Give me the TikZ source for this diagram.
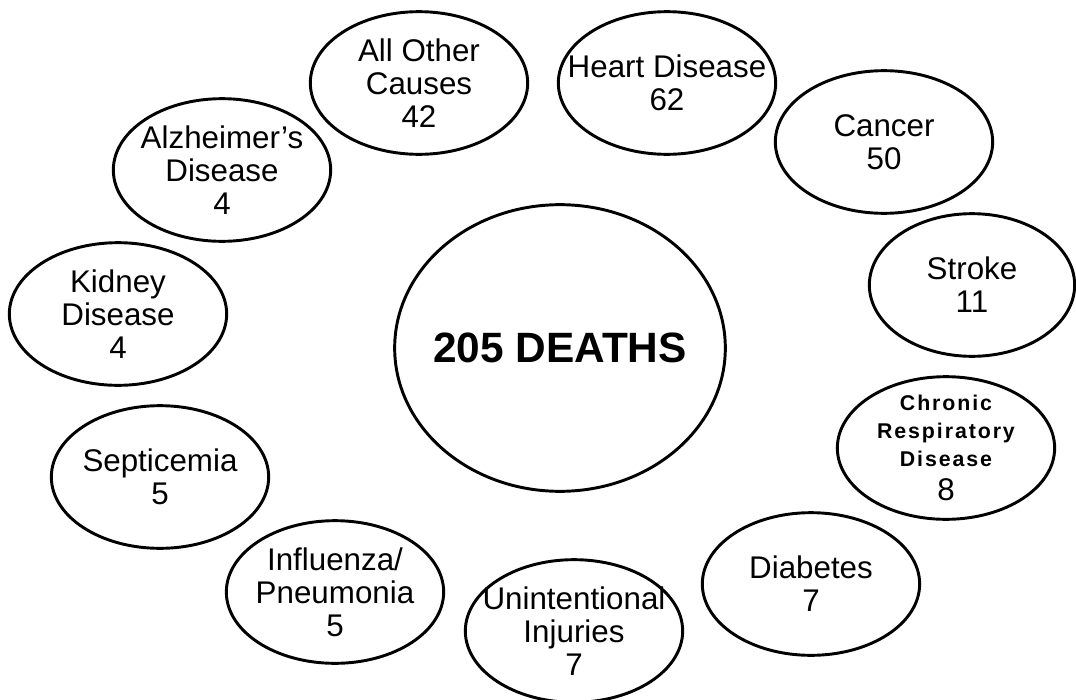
\documentclass[tikz,border=0pt]{standalone}
\usepackage{fontspec}
\setmainfont{Liberation Sans}
\usetikzlibrary{shapes.geometric}
\newcommand{\crd}[1]{{\bfseries\fontsize{16}{21}\selectfont\addfontfeature{LetterSpace=9}#1}}

\begin{document}
\begin{tikzpicture}[x=0.75pt,y=-0.75pt,
	cause/.style={draw,ellipse,line width=2.2pt,minimum width=163pt,minimum height=107pt,inner sep=0pt},
	hub/.style={draw,ellipse,line width=2.2pt,minimum width=248pt,minimum height=215pt,inner sep=0pt},
	lbl/.style={align=center,inner sep=0pt,font=\fontsize{23.5}{24.75}\selectfont}]
						\clip (0,0) rectangle (1076,700);
						\node[hub] (total) at (560,348) {};
						\node[font=\fontsize{31.8}{36}\selectfont\bfseries] (totall) at (total) {205 DEATHS};
						\node[cause] (other) at (419,83) {};
						\node[cause] (heart) at (667,83) {};
						\node[cause] (cancer) at (884,142) {};
						\node[cause,minimum width=154pt] (stroke) at (972,285) {};
						\node[cause] (resp) at (946,448) {};
						\node[cause] (diab) at (811,584) {};
						\node[cause] (injury) at (574,631) {};
						\node[cause] (flu) at (335,592) {};
						\node[cause] (sept) at (160,477) {};
						\node[cause] (kidney) at (118,314) {};
						\node[cause] (alz) at (222,170) {};
						\node[lbl] (otherl) at (other) {All Other\\Causes\\42};
						\node[lbl] (heartl) at (heart) {Heart Disease\\62};
						\node[lbl] (cancerl) at (cancer) {Cancer\\50};
						\node[lbl] (strokel) at (stroke) {Stroke\\11};
						\node[lbl,font=\fontsize{16}{21}\selectfont] (respl) at (resp) {\crd{Chronic}\\\crd{Respiratory}\\\crd{Disease}\\[5pt]{\fontsize{23.5}{24.75}\selectfont 8}};
						\node[lbl] (diabl) at (diab) {Diabetes\\7};
						\node[lbl] (injuryl) at (injury) {Unintentional\\Injuries\\7};
						\node[lbl] (flul) at (flu) {Influenza/\\Pneumonia\\5};
						\node[lbl] (septl) at (sept) {Septicemia\\5};
						\node[lbl] (kidneyl) at (kidney) {Kidney\\Disease\\4};
						\node[lbl] (alzl) at (alz) {Alzheimer’s\\Disease\\4};
					\end{tikzpicture}
\end{document}
